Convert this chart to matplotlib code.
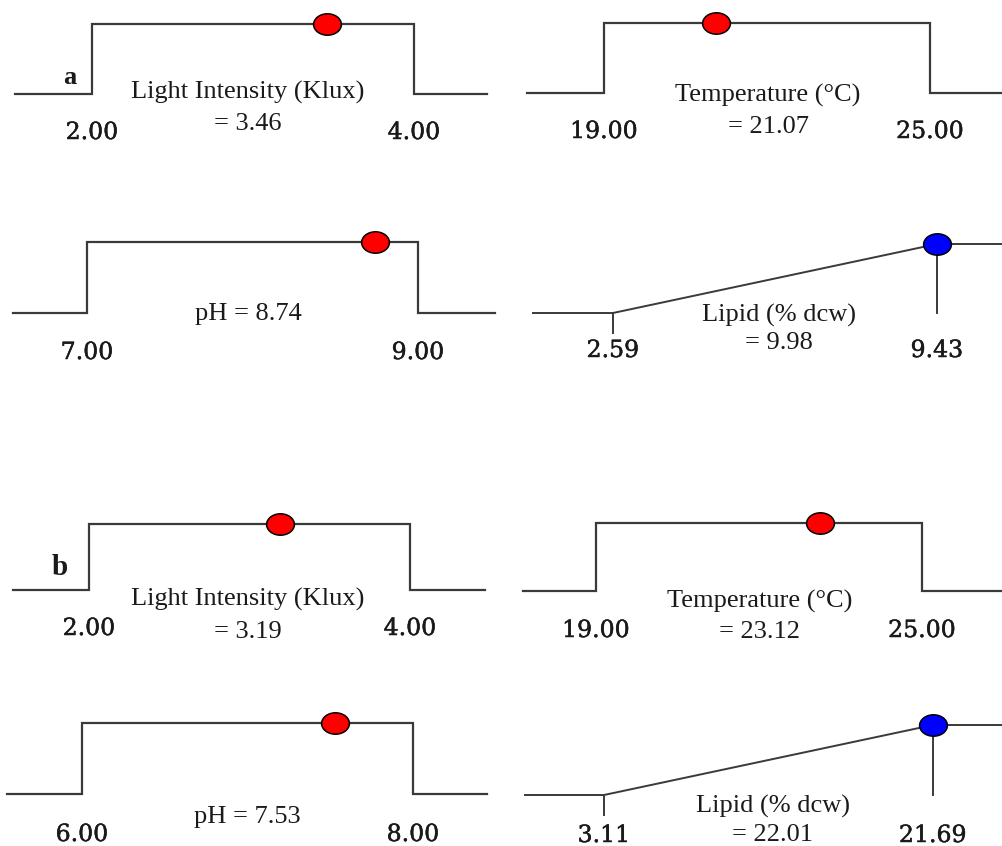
import numpy as np
import matplotlib.pyplot as plt
import matplotlib.patheffects as pe
from matplotlib.path import Path
from matplotlib.transforms import Affine2D

W, H = 1003, 846

# factor ranges and optimum settings, run a
factors = ["Light Intensity (Klux)", "Temperature (°C)", "pH"]
low_a = [2.00, 19.00, 7.00]
high_a = [4.00, 25.00, 9.00]
opt_a = [3.46, 21.07, 8.74]
lipid_a = [2.59, 9.43, 9.98]    # lower, upper, predicted

# run b
low_b = [2.00, 19.00, 6.00]
high_b = [4.00, 25.00, 8.00]
opt_b = [3.19, 23.12, 7.53]
lipid_b = [3.11, 21.69, 22.01]

# pixel geometry: x of low, x of high, baseline y, top y, line start, line end
geom_a = [(92, 414, 94, 24, 15, 487), (604, 930, 93, 23, 527, 1003),
          (87, 418, 313, 242, 13, 495), (613, 937, 313, 244, 533, 1003)]
geom_b = [(89, 410, 590, 524, 13, 485), (596, 922, 591, 523, 523, 1003),
          (82, 413, 794, 723, 7, 487), (604, 933, 795, 725, 525, 1003)]
# text: centre x, name baseline, value baseline, tick baseline
txt_a = [(248, 99, 130, 139), (768, 102, 133, 138),
         (248, 320, None, 359), (779, 322, 349, 357)]
txt_b = [(248, 606, 638, 635), (760, 608, 638, 637),
         (247, 823, None, 841), (773, 813, 841, 842)]

LINE = '#3a3a3a'
TXT = '#1a1a1a'
LAB = dict(family='Liberation Serif', size=19, color=TXT)
# regular face with a thin outline gives a medium weight
TICK = dict(family='DejaVu Serif', size=17, color=TXT,
            path_effects=[pe.withStroke(linewidth=0.35, foreground=TXT)])

oval = Path.unit_circle().transformed(Affine2D().scale(1, 0.77))

fig = plt.figure(figsize=(W / 100, H / 100), dpi=100)


def make_ax(g, lo, hi):
    x0, x1, yb, yt, xs, xe = g
    ax = fig.add_axes([x0 / W, 1 - yb / H, (x1 - x0) / W, (yb - yt) / H])
    ax.set_xlim(lo, hi)
    ax.set_ylim(0, 1)
    ax.axis('off')
    sx = (hi - lo) / (x1 - x0)
    xs_d = lo + (xs - x0) * sx
    xe_d = lo + (xe - x0) * sx
    return ax, xs_d, xe_d


def ticks(ax, g, t, lo, hi):
    yb, yt = g[2], g[3]
    y = (yb - t[3]) / (yb - yt)
    for v in (lo, hi):
        ax.text(v, y, f'{v:.2f}', ha='center', va='baseline', clip_on=False, **TICK)


def labels(t, name, val):
    cx, yn, yv, _ = t
    if yv is None:
        fig.text(cx / W, 1 - yn / H, f'{name} = {val:.2f}', ha='center', va='baseline', **LAB)
    else:
        fig.text(cx / W, 1 - yn / H, name, ha='center', va='baseline', **LAB)
        fig.text(cx / W, 1 - yv / H, f'= {val:.2f}', ha='center', va='baseline', **LAB)


def factor_panel(g, t, name, lo, hi, val):
    ax, xs, xe = make_ax(g, lo, hi)
    ax.plot([xs, lo, lo, hi, hi, xe], [0, 0, 1, 1, 0, 0], color=LINE, lw=1.6,
            clip_on=False, solid_joinstyle='miter')
    ax.plot([val], [1], marker=oval, ms=20, mfc='#ff0000', mec='black', mew=1.1,
            clip_on=False, zorder=3)
    ticks(ax, g, t, lo, hi)
    labels(t, name, val)


def response_panel(g, t, lo, hi, val):
    ax, xs, xe = make_ax(g, lo, hi)
    tick = -20 / (g[2] - g[3])
    kw = dict(color=LINE, lw=1.4, clip_on=False)
    ax.plot([xs, lo], [0, 0], **kw)
    ax.plot([lo, lo], [0, tick], **kw)
    ax.plot([lo, hi], [0, 1], **kw)
    ax.plot([hi, xe], [1, 1], **kw)
    ax.plot([hi, hi], [1, 0], **kw)
    # predicted value above the upper limit sits at the top of the ramp
    ax.plot([min(val, hi)], [1], marker=oval, ms=20, mfc='#0000ff', mec='black',
            mew=1.1, clip_on=False, zorder=3)
    ticks(ax, g, t, lo, hi)
    labels(t, 'Lipid (% dcw)', val)


for geom, txt, lows, highs, opts, lip in [(geom_a, txt_a, low_a, high_a, opt_a, lipid_a),
                                         (geom_b, txt_b, low_b, high_b, opt_b, lipid_b)]:
    for i in range(3):
        factor_panel(geom[i], txt[i], factors[i], lows[i], highs[i], opts[i])
    response_panel(geom[3], txt[3], lip[0], lip[1], lip[2])

fig.text(70 / W, 1 - 84 / H, 'a', ha='center', va='baseline', family='Liberation Serif',
         size=19, weight='bold', color=TXT)
fig.text(60 / W, 1 - 575 / H, 'b', ha='center', va='baseline', family='Liberation Serif',
         size=21, weight='bold', color=TXT)

fig.savefig('out.png', dpi=100, facecolor='white')
